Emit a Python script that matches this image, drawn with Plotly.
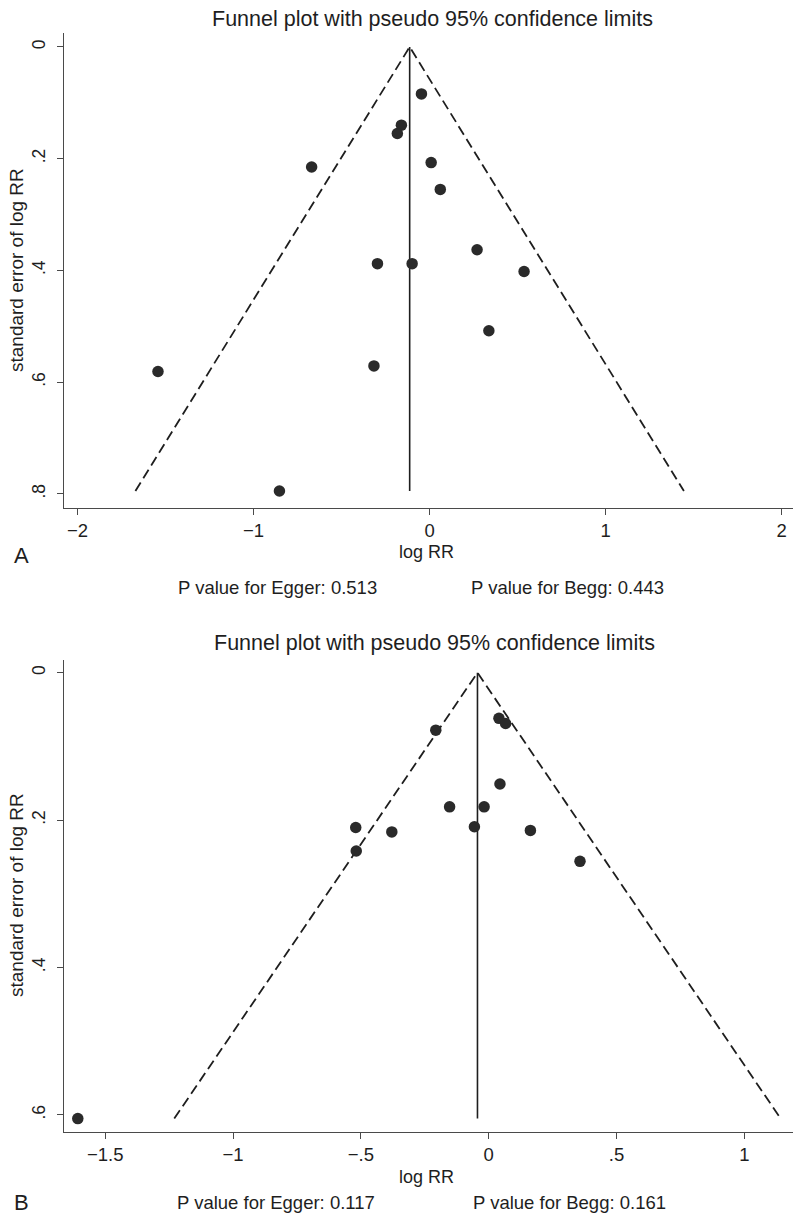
import plotly.graph_objects as go

# ---------------- Data ----------------
# Panel A
a_log_rr = [-0.046, -0.160, -0.183, -0.670, 0.009, 0.061, 0.270, -0.296,
            -0.099, 0.537, 0.337, -0.316, -1.543, -0.853]
a_se = [0.084, 0.140, 0.155, 0.215, 0.207, 0.255, 0.363, 0.388,
        0.388, 0.402, 0.508, 0.571, 0.581, 0.795]
a_center = -0.113
a_xticks = [-2, -1, 0, 1, 2]
a_xticktext = ["\u22122", "\u22121", "0", "1", "2"]
a_yticks = [0, 0.2, 0.4, 0.6, 0.8]
a_yticktext = ["0", ".2", ".4", ".6", ".8"]
a_egger = "P value for Egger: 0.513"
a_begg = "P value for Begg: 0.443"

# Panel B
b_log_rr = [0.040, 0.066, -0.207, 0.044, -0.153, -0.018, -0.520, -0.379,
            -0.056, 0.163, -0.518, 0.357, -1.607]
b_se = [0.062, 0.069, 0.078, 0.151, 0.182, 0.182, 0.210, 0.216,
        0.209, 0.214, 0.242, 0.256, 0.605]
b_center = -0.044
b_xticks = [-1.5, -1, -0.5, 0, 0.5, 1]
b_xticktext = ["\u22121.5", "\u22121", "\u2212.5", "0", ".5", "1"]
b_yticks = [0, 0.2, 0.4, 0.6]
b_yticktext = ["0", ".2", ".4", ".6"]
b_egger = "P value for Egger: 0.117"
b_begg = "P value for Begg: 0.161"

title_text = "Funnel plot with pseudo 95% confidence limits"
z95 = 1.96

# ---------------- Figure ----------------
W, H = 800, 1228
FONT = "Liberation Sans, Arial, sans-serif"
INK = "#1e1e1e"
AXC = "#4a4a4a"

fig = go.Figure()


def add_panel(log_rr, se, center, xa, ya):
    se_max = max(se)
    # pseudo 95% CI limits
    fig.add_trace(go.Scatter(
        x=[center - z95 * se_max, center, center + z95 * se_max],
        y=[se_max, 0, se_max],
        mode="lines", line=dict(color=INK, width=1.8, dash="10px,5px"),
        xaxis=xa, yaxis=ya, showlegend=False, hoverinfo="skip"))
    # pooled estimate line
    fig.add_trace(go.Scatter(
        x=[center, center], y=[0, se_max],
        mode="lines", line=dict(color=INK, width=1.6),
        xaxis=xa, yaxis=ya, showlegend=False, hoverinfo="skip"))
    # studies
    fig.add_trace(go.Scatter(
        x=log_rr, y=se, mode="markers",
        marker=dict(size=11.5, color="#2a2a2a"),
        xaxis=xa, yaxis=ya, showlegend=False))


add_panel(a_log_rr, a_se, a_center, "x", "y")
add_panel(b_log_rr, b_se, b_center, "x2", "y2")


def px_x(x):
    return x / W


def px_y(y):
    return 1 - y / H


axis_common = dict(
    showline=True, linecolor=AXC, linewidth=1.3, mirror=False,
    ticks="outside", ticklen=6, tickwidth=1.2, tickcolor=AXC,
    showgrid=False, zeroline=False,
    tickmode="array",
)
xtickfont = dict(family=FONT, size=18.5, color=INK)
ytickfont = dict(family=FONT, size=17.5, color=INK)

xdom = [px_x(64), px_x(793)]

fig.update_layout(
    width=W, height=H,
    margin=dict(l=0, r=0, t=0, b=0),
    paper_bgcolor="white", plot_bgcolor="white",
    xaxis=dict(domain=xdom, range=[-2.077, 2.065], anchor="y",
               tickvals=a_xticks, ticktext=a_xticktext, tickfont=xtickfont,
               **axis_common),
    yaxis=dict(domain=[px_y(508), px_y(33)], range=[0.8254, -0.025],
               anchor="x", tickvals=a_yticks, ticktext=a_yticktext,
               tickangle=-90, ticklabelstandoff=5, tickfont=ytickfont,
               **axis_common),
    xaxis2=dict(domain=xdom, range=[-1.661, 1.190], anchor="y2",
                tickvals=b_xticks, ticktext=b_xticktext, tickfont=xtickfont,
                **axis_common),
    yaxis2=dict(domain=[px_y(1132), px_y(660)], range=[0.6232, -0.0172],
                anchor="x2", tickvals=b_yticks, ticktext=b_yticktext,
                tickangle=-90, ticklabelstandoff=5, tickfont=ytickfont,
                **axis_common),
)


def note(text, x, y, size, angle=0):
    fig.add_annotation(text=text, x=px_x(x), y=px_y(y), xref="paper",
                       yref="paper", showarrow=False, textangle=angle,
                       xanchor="center", yanchor="middle",
                       font=dict(family=FONT, size=size, color=INK))


# Panel A texts
note(title_text, 432, 19, 21.5)
note("standard error of log RR", 16, 270, 19, -90)
note("log RR", 427, 552, 18)
note("A", 21, 555, 22)
note(a_egger, 277, 587, 18.5)
note(a_begg, 567, 587, 18.5)

# Panel B texts
note(title_text, 435, 643, 21.5)
note("standard error of log RR", 16, 895, 19, -90)
note("log RR", 427, 1177, 18)
note("B", 21, 1202, 22)
note(b_egger, 276, 1202, 18.5)
note(b_begg, 569, 1202, 18.5)

# the page body has a default 8px margin; remove it so the 800x1228
# figure fills the window exactly
fig.write_html("out.html", config={"displayModeBar": False},
               post_script="document.body.style.margin='0';")
